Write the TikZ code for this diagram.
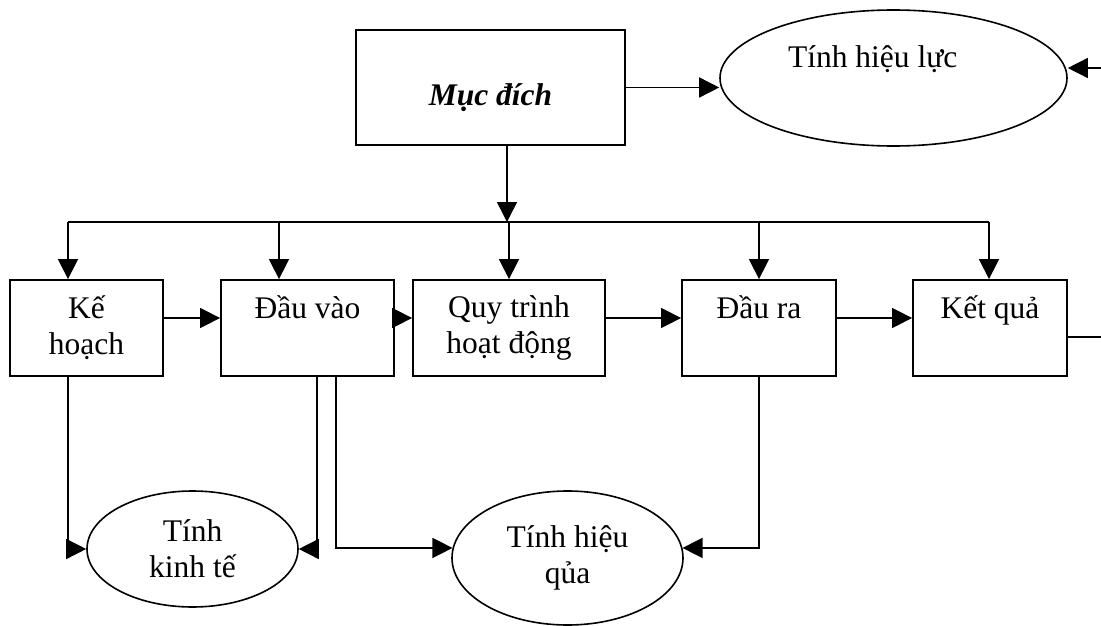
\documentclass[tikz,border=0pt]{standalone}
\usepackage{fontspec}
\setmainfont{Liberation Serif}
\usetikzlibrary{arrows.meta,shapes.geometric}
\begin{document}
\begin{tikzpicture}[x=1pt,y=-1pt,
  txt/.style={font=\fontsize{31.5}{36}\selectfont, align=center, inner sep=0pt},
  rbox/.style={txt, draw, rectangle, line width=1.8pt, minimum height=96pt},
  oval/.style={txt, draw, ellipse, line width=1.6pt},
  single/.style={text height=24pt, text depth=44pt},
  conn/.style={line width=1.5pt},
  arr/.style={conn, -{Triangle[length=20pt,width=20pt]}}
]
\useasboundingbox (0,0) rectangle (1101,626);
\clip (0,0) rectangle (1101,626);

% top row
\node[rbox, minimum width=269pt, minimum height=115pt,
      font=\fontsize{31.5}{36}\selectfont\bfseries\itshape,
      text height=44pt, text depth=7pt] (md) at (490.5,87.5) {Mục đích};
\node[oval, minimum width=347pt, minimum height=136pt,
      text height=22pt, text depth=44pt] (hl) at (893.5,78)
      {\makebox[211pt][l]{Tính hiệu lực}};

% middle row
\node[rbox, minimum width=153pt] (kh) at (86.5,328) {Kế\\hoạch};
\node[rbox, single, minimum width=173pt] (dv) at (307.5,328) {Đầu vào};
\node[rbox, minimum width=192pt] (qt) at (509,328) {Quy trình\\hoạt động};
\node[rbox, single, minimum width=154pt] (dr) at (759,328) {Đầu ra};
\node[rbox, single, minimum width=154pt] (kq) at (990,328) {Kết quả};

% bottom row
\node[oval, minimum width=211pt, minimum height=116pt] (ke) at (192.5,549) {Tính\\kinh tế};
\node[oval, minimum width=231pt, minimum height=134pt] (hq) at (567.5,558) {Tính hiệu\\qủa};

% bus coordinates
\coordinate (top) at (507,222);
\coordinate (j1) at (68,222);
\coordinate (j2) at (279,222);
\coordinate (j3) at (509,222);
\coordinate (j4) at (759,222);
\coordinate (j5) at (989,222);
\coordinate (loop) at (1120,337);

% connectors
\draw[arr] (md) -- (hl.west |- md);
\draw[arr] (md.south -| top) -- (top);
\draw[conn] (j1) -- (j5);
\draw[arr] (j1) -- (j1 |- kh.north);
\draw[arr] (j2) -- (j2 |- dv.north);
\draw[arr] (j3) -- (j3 |- qt.north);
\draw[arr] (j4) -- (j4 |- dr.north);
\draw[arr] (j5) -- (j5 |- kq.north);

\draw[arr] ([yshift=10pt]kh.east) -- ([yshift=10pt]dv.west);
\draw[arr] ([yshift=10pt]dv.east) -- ([yshift=10pt]qt.west);
\draw[arr] ([yshift=10pt]qt.east) -- ([yshift=10pt]dr.west);
\draw[arr] ([yshift=10pt]dr.east) -- ([yshift=10pt]kq.west);

\draw[arr] ([yshift=-9pt]kq.east) -- (loop) |- ([yshift=10pt]hl.east);

\draw[arr] (kh.south -| j1) |- (ke.west);
\draw[arr] ([xshift=9.5pt]dv.south) |- (ke.east);
\draw[arr] ([xshift=28.5pt]dv.south) |- (hq.175);
\draw[arr] (dr.south) |- (hq.5);
\end{tikzpicture}
\end{document}
